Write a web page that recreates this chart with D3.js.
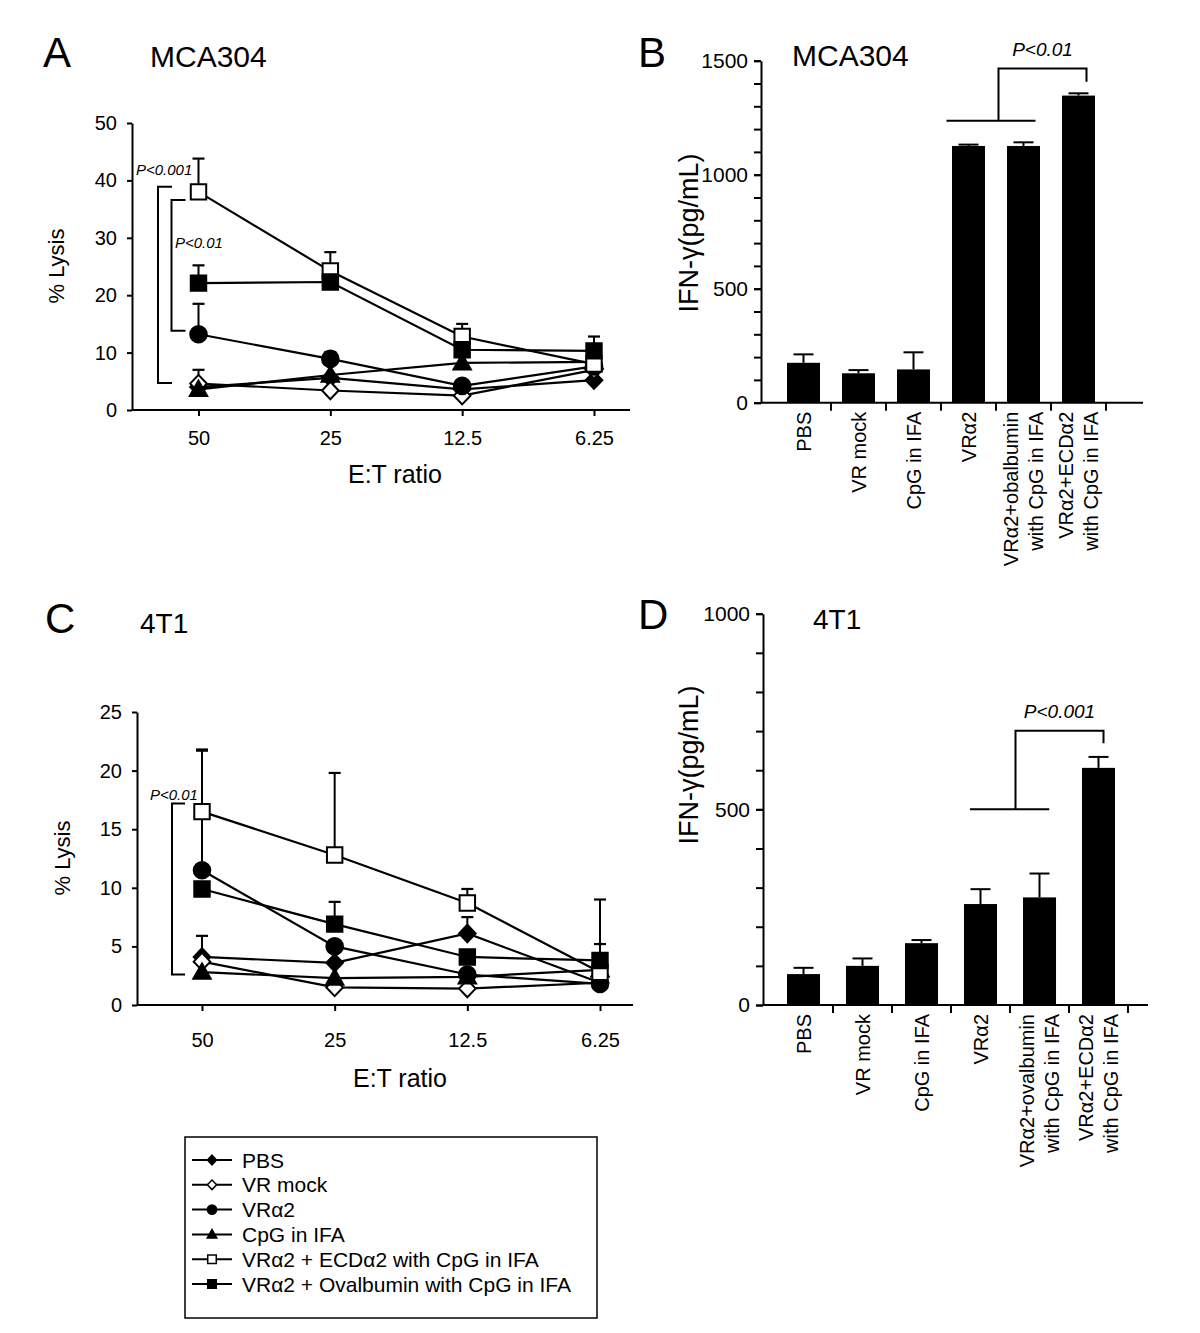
<!DOCTYPE html>
<html><head><meta charset="utf-8">
<script src="https://cdn.jsdelivr.net/npm/d3@7"></script>
<style>
body{margin:0;background:#fff}
svg{display:block}
text{font-family:"Liberation Sans",Arial,Helvetica,sans-serif;fill:#000}
</style>
</head><body>
<svg id="c" width="1200" height="1333"></svg>
<script>
// ---------- DATA ----------
const ratios = ["50", "25", "12.5", "6.25"];
const seriesNames = ["PBS", "VR mock", "VRα2", "CpG in IFA",
  "VRα2 + ECDα2 with CpG in IFA", "VRα2 + Ovalbumin with CpG in IFA"];
const lysisTicksA = [0, 10, 20, 30, 40, 50];
const lysisTicksC = [0, 5, 10, 15, 20, 25];

// Panel A: MCA304 % lysis
const mcaPBS    = [4.0, 5.6, 3.6, 5.2];
const mcaVRmock = [4.6, 3.4, 2.5, 7.0];
const mcaVRa2   = [13.2, 8.9, 4.2, 7.6];
const mcaCpG    = [3.6, 6.1, 8.2, 8.4];
const mcaECD    = [38.0, 24.2, 12.8, 8.0];
const mcaOva    = [22.1, 22.3, 10.5, 10.3];
const mcaPBSErr    = [0, 0, 0, 0];
const mcaVRmockErr = [2.4, 0, 0, 0];
const mcaVRa2Err   = [5.3, 1.2, 0, 0];
const mcaCpGErr    = [0, 0, 0, 0];
const mcaECDErr    = [5.8, 3.3, 2.2, 0];
const mcaOvaErr    = [3.1, 3.0, 0, 2.5];

// Panel C: 4T1 % lysis
const t1PBS    = [4.1, 3.6, 6.1, 1.9];
const t1VRmock = [3.7, 1.5, 1.4, 1.9];
const t1VRa2   = [11.5, 5.0, 2.6, 1.8];
const t1CpG    = [2.8, 2.3, 2.4, 3.0];
const t1ECD    = [16.5, 12.8, 8.7, 2.8];
const t1Ova    = [9.9, 6.9, 4.1, 3.8];
const t1PBSErr    = [1.8, 0, 1.4, 0];
const t1VRmockErr = [0, 0, 0, 0];
const t1VRa2Err   = [10.2, 0, 0, 0];
const t1CpGErr    = [0, 0, 0, 0];
const t1ECDErr    = [5.3, 7.0, 1.2, 6.2];
const t1OvaErr    = [0, 1.9, 0, 1.4];

// Panels B, D: IFN-gamma
const mcaBarLabels = [["PBS"], ["VR mock"], ["CpG in IFA"], ["VRα2"],
  ["VRα2+obalbumin", "with CpG in IFA"], ["VRα2+ECDα2", "with CpG in IFA"]];
const t1BarLabels = [["PBS"], ["VR mock"], ["CpG in IFA"], ["VRα2"],
  ["VRα2+ovalbumin", "with CpG in IFA"], ["VRα2+ECDα2", "with CpG in IFA"]];
const mcaIFN    = [175, 129, 146, 1126, 1126, 1347];
const mcaIFNErr = [37, 14, 75, 6, 16, 10];
const t1IFN     = [79, 100, 158, 258, 275, 606];
const t1IFNErr  = [16, 19, 8, 38, 61, 28];
const ifnTicksB = [0, 500, 1000, 1500];
const ifnTicksD = [0, 500, 1000];

// ---------- DRAWING ----------
const svg = d3.select("#c");
const FONT = 20;

function markerType(kind, r) {
  return { draw(ctx) {
    if (kind === "diamond") {
      ctx.moveTo(0, -r * 1.05); ctx.lineTo(r, 0); ctx.lineTo(0, r * 1.05); ctx.lineTo(-r, 0); ctx.closePath();
    } else if (kind === "square") {
      ctx.rect(-r * 0.93, -r * 0.93, r * 1.86, r * 1.86);
    } else if (kind === "circle") {
      ctx.moveTo(r, 0); ctx.arc(0, 0, r, 0, 2 * Math.PI);
    } else {
      ctx.moveTo(0, -r * 1.05); ctx.lineTo(r * 1.05, r * 0.8); ctx.lineTo(-r * 1.05, r * 0.8); ctx.closePath();
    }
  }};
}
const styles = [
  {kind: "diamond", fill: "#000"}, {kind: "diamond", fill: "#fff"},
  {kind: "circle", fill: "#000"}, {kind: "triangle", fill: "#000"},
  {kind: "square", fill: "#fff"}, {kind: "square", fill: "#000"}];

function styleAxis(g, size) {
  const fs = size || FONT;
  g.attr("font-size", fs).attr("font-family", '"Liberation Sans",Arial,sans-serif');
  g.selectAll("path,line").attr("stroke", "#000").attr("stroke-width", 2);
  g.selectAll("text").attr("font-size", fs).attr("fill", "#000");
}

function linePanel(o) {
  const g = svg.append("g");
  const x = d3.scalePoint().domain(ratios).range(o.xr);
  const y = d3.scaleLinear().domain([0, o.ymax]).range(o.yr);
  // y axis
  const ya = g.append("g").attr("transform", `translate(${o.axisX},0)`)
    .call(d3.axisLeft(y).tickValues(o.ticks).tickFormat(d3.format("d"))
      .tickSize(5).tickPadding(10).tickSizeOuter(0));
  styleAxis(ya);
  // x axis
  const xa = g.append("g").attr("transform", `translate(0,${o.yr[0]})`)
    .call(d3.axisBottom(x).tickSize(6).tickPadding(o.xPad));
  xa.select(".domain").remove();
  styleAxis(xa);
  g.append("line").attr("x1", o.axisX).attr("x2", o.axisEnd)
    .attr("y1", o.yr[0]).attr("y2", o.yr[0]).attr("stroke", "#000").attr("stroke-width", 2);
  // lines
  const line = d3.line().x((d, i) => x(ratios[i])).y(d => y(d));
  o.values.forEach(vals => {
    g.append("path").attr("d", line(vals)).attr("fill", "none")
      .attr("stroke", "#000").attr("stroke-width", 2.2);
  });
  // error bars (upper)
  o.values.forEach((vals, s) => {
    vals.forEach((v, i) => {
      const e = o.errs[s][i];
      if (!e) return;
      const cx = x(ratios[i]);
      g.append("line").attr("x1", cx).attr("x2", cx).attr("y1", y(v)).attr("y2", y(v + e))
        .attr("stroke", "#000").attr("stroke-width", 2);
      g.append("line").attr("x1", cx - 6).attr("x2", cx + 6).attr("y1", y(v + e)).attr("y2", y(v + e))
        .attr("stroke", "#000").attr("stroke-width", 2.2);
    });
  });
  // markers
  o.values.forEach((vals, s) => {
    const sym = d3.symbol().type(markerType(styles[s].kind, 8.3));
    vals.forEach((v, i) => {
      g.append("path").attr("d", sym())
        .attr("transform", `translate(${x(ratios[i])},${y(v)})`)
        .attr("fill", styles[s].fill).attr("stroke", "#000").attr("stroke-width", 2);
    });
  });
  // axis titles
  g.append("text").attr("x", o.xTitle[0]).attr("y", o.xTitle[1]).attr("text-anchor", "middle")
    .attr("font-size", 25).text("E:T ratio");
  g.append("text").attr("transform", `translate(${o.yTitle[0]},${o.yTitle[1]}) rotate(-90)`)
    .attr("text-anchor", "middle").attr("dy", "0.35em").attr("font-size", 22).text("% Lysis");
  // brackets
  o.brackets.forEach(b => {
    const bx = x("50") + b.dx;
    g.append("path").attr("d", `M${bx + b.w},${y(b.top)}H${bx}V${y(b.bottom)}H${bx + b.w}`)
      .attr("fill", "none").attr("stroke", "#000").attr("stroke-width", 2);
    g.append("text").attr("x", b.tx).attr("y", b.ty).attr("font-size", 15)
      .attr("font-style", "italic").text(b.label);
  });
  return {x, y};
}

function barPanel(o) {
  const g = svg.append("g");
  const keys = o.labels.map((l, i) => i);
  const x = d3.scaleBand().domain(keys).range(o.xr).paddingInner(o.pad).paddingOuter(o.pad / 2);
  const y = d3.scaleLinear().domain([0, o.ymax]).range(o.yr);
  const minor = d3.range(0, o.ymax + 1, 100);
  const ym = g.append("g").attr("transform", `translate(${o.axisX},0)`)
    .call(d3.axisLeft(y).tickValues(minor).tickSize(7).tickSizeOuter(0).tickFormat(""));
  styleAxis(ym);
  const ya = g.append("g").attr("transform", `translate(${o.axisX},0)`)
    .call(d3.axisLeft(y).tickValues(o.ticks).tickFormat(d3.format("d"))
      .tickSize(7).tickPadding(6).tickSizeOuter(0));
  ya.select(".domain").remove();
  styleAxis(ya, 21);
  // bars
  g.selectAll("rect.bar").data(o.values).join("rect").attr("class", "bar")
    .attr("x", (d, i) => x(i)).attr("width", x.bandwidth())
    .attr("y", d => y(d)).attr("height", d => y(0) - y(d)).attr("fill", "#000");
  // error bars
  o.values.forEach((v, i) => {
    const cx = x(i) + x.bandwidth() / 2, e = o.errs[i];
    g.append("line").attr("x1", cx).attr("x2", cx).attr("y1", y(v)).attr("y2", y(v + e))
      .attr("stroke", "#000").attr("stroke-width", 2);
    g.append("line").attr("x1", cx - 10).attr("x2", cx + 10).attr("y1", y(v + e)).attr("y2", y(v + e))
      .attr("stroke", "#000").attr("stroke-width", 2);
  });
  // x axis
  const y0 = y(0);
  g.append("line").attr("x1", o.axisX).attr("x2", o.axisEnd).attr("y1", y0).attr("y2", y0)
    .attr("stroke", "#000").attr("stroke-width", 2);
  keys.forEach(k => {
    const tx = x(k) + x.bandwidth() + x.step() * x.paddingInner() / 2;
    g.append("line").attr("x1", tx).attr("x2", tx).attr("y1", y0).attr("y2", y0 + 8)
      .attr("stroke", "#000").attr("stroke-width", 2);
  });
  // category labels
  o.labels.forEach((lines, i) => {
    const cx = x(i) + x.bandwidth() / 2;
    const t = g.append("text").attr("transform", `translate(${cx},${y0 + 9}) rotate(-90)`)
      .attr("text-anchor", "end").attr("font-size", FONT);
    lines.forEach((ln, j) => {
      t.append("tspan").attr("x", 0).attr("y", 7 - (lines.length - 1) * 12.5 + j * 25).text(ln);
    });
  });
  // y title
  g.append("text").attr("transform", `translate(${o.yTitle[0]},${o.yTitle[1]}) rotate(-90)`)
    .attr("text-anchor", "middle").attr("dy", "0.35em").attr("font-size", 27).text("IFN-γ(pg/mL)");
  // significance bracket
  const c = i => x(i) + x.bandwidth() / 2;
  const b = o.bracket;
  const L = c(3) + b.l, R = c(4) + b.r, M = L + b.m, E = c(5) + b.e;
  g.append("line").attr("x1", L).attr("x2", R).attr("y1", y(b.base)).attr("y2", y(b.base))
    .attr("stroke", "#000").attr("stroke-width", 2);
  g.append("path").attr("d", `M${M},${y(b.base)}V${y(b.top)}H${E}V${y(b.drop)}`)
    .attr("fill", "none").attr("stroke", "#000").attr("stroke-width", 2);
  g.append("text").attr("x", (M + E) / 2).attr("y", b.ty).attr("text-anchor", "middle")
    .attr("font-size", 19).attr("font-style", "italic").text(b.label);
}

function label(x, y, txt, size) {
  svg.append("text").attr("x", x).attr("y", y).attr("font-size", size).text(txt);
}

// Panel A
linePanel({
  xr: [198.5, 594], yr: [410, 123], ymax: 50, ticks: lysisTicksA, axisX: 132, axisEnd: 630, xPad: 15,
  values: [mcaPBS, mcaVRmock, mcaVRa2, mcaCpG, mcaECD, mcaOva],
  errs: [mcaPBSErr, mcaVRmockErr, mcaVRa2Err, mcaCpGErr, mcaECDErr, mcaOvaErr],
  xTitle: [395, 483], yTitle: [56, 266],
  brackets: [
    {dx: -40.5, w: 14, top: 38.9, bottom: 4.7, tx: 136, ty: 175, label: "P<0.001"},
    {dx: -27, w: 14, top: 36.6, bottom: 13.8, tx: 175, ty: 248, label: "P<0.01"}]
});
// Panel C
linePanel({
  xr: [202, 600], yr: [1005, 712], ymax: 25, ticks: lysisTicksC, axisX: 137, axisEnd: 633, xPad: 22,
  values: [t1PBS, t1VRmock, t1VRa2, t1CpG, t1ECD, t1Ova],
  errs: [t1PBSErr, t1VRmockErr, t1VRa2Err, t1CpGErr, t1ECDErr, t1OvaErr],
  xTitle: [400, 1087], yTitle: [62, 858],
  brackets: [{dx: -30, w: 13, top: 17.2, bottom: 2.6, tx: 150, ty: 800, label: "P<0.01"}]
});
// Panel B
barPanel({
  xr: [776, 1106], pad: 0.4, yr: [402.7, 60.7], ymax: 1500, ticks: ifnTicksB,
  axisX: 761, axisEnd: 1143, values: mcaIFN, errs: mcaIFNErr, labels: mcaBarLabels,
  yTitle: [689, 233],
  bracket: {l: -22, r: 12, m: 52, e: 8, base: 1237, top: 1466, drop: 1408, ty: 56, label: "P<0.01"}
});
// Panel D
barPanel({
  xr: [774, 1128], pad: 0.44, yr: [1005, 613.7], ymax: 1000, ticks: ifnTicksD,
  axisX: 763, axisEnd: 1148, values: t1IFN, errs: t1IFNErr, labels: t1BarLabels,
  yTitle: [689, 765],
  bracket: {l: -10.6, r: 9.7, m: 45.6, e: 5, base: 500, top: 701, drop: 669, ty: 718, label: "P<0.001"}
});

// Panel letters / titles
label(43, 67, "A", 42); label(150, 67, "MCA304", 30);
label(638, 67, "B", 42); label(792, 66, "MCA304", 30);
label(45, 633, "C", 42); label(140, 633, "4T1", 28);
label(638, 629, "D", 42); label(813, 629, "4T1", 28);

// Legend
const lg = svg.append("g");
lg.append("rect").attr("x", 185).attr("y", 1137).attr("width", 412).attr("height", 181)
  .attr("fill", "none").attr("stroke", "#000").attr("stroke-width", 1.5);
seriesNames.forEach((name, i) => {
  const yy = 1160 + i * 24.8;
  lg.append("line").attr("x1", 192).attr("x2", 232).attr("y1", yy).attr("y2", yy)
    .attr("stroke", "#000").attr("stroke-width", 2);
  lg.append("path").attr("d", d3.symbol().type(markerType(styles[i].kind, 4.6))())
    .attr("transform", `translate(212,${yy})`).attr("fill", styles[i].fill)
    .attr("stroke", "#000").attr("stroke-width", 1.5);
  lg.append("text").attr("x", 242).attr("y", yy).attr("dy", "0.36em").attr("font-size", 21).text(name);
});
</script>
</body></html>
